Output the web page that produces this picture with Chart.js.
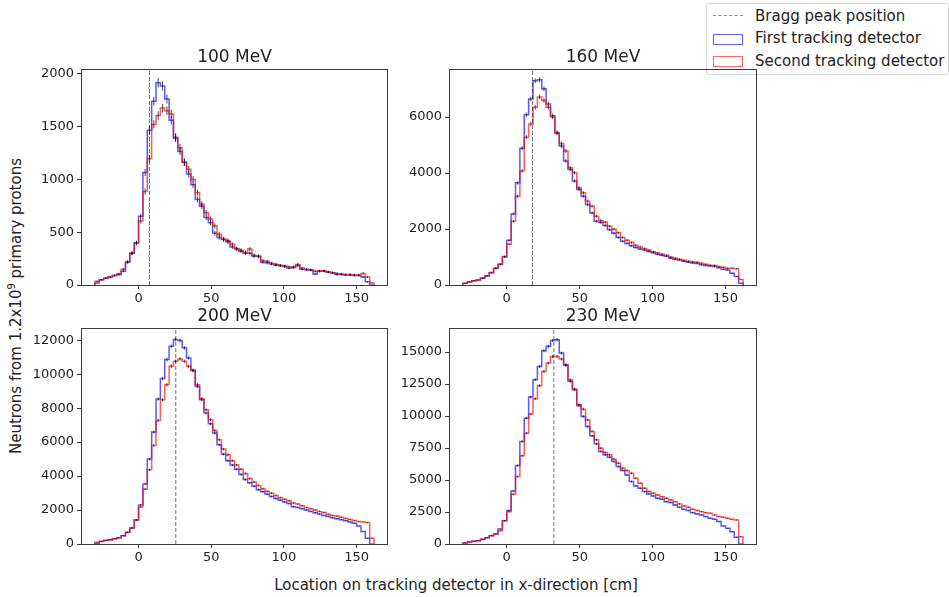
<!DOCTYPE html>
<html><head><meta charset="utf-8">
<script src="https://cdn.jsdelivr.net/npm/chart.js@4/dist/chart.umd.min.js"></script>
<style>
body{margin:0;background:#fff;width:949px;height:597px;overflow:hidden;position:relative;font-family:"DejaVu Sans",sans-serif;color:#222}
canvas{position:absolute}
.lbl{position:absolute;white-space:nowrap;font-size:15px;color:#222}
#legend{position:absolute;left:706px;top:3px;width:241px;height:70px;border:1px solid #d6d6d6;border-radius:3px;background:#fff}
.row{position:absolute;left:48px;font-size:15px;line-height:18px;white-space:nowrap;color:#222}
.h{position:absolute;left:6px;box-sizing:border-box}
</style></head><body>
<div id="legend">
  <div class="h" style="top:11px;width:30px;height:0;border-top:1px dashed #8a8a8a"></div>
  <div class="row" style="top:3px">Bragg peak position</div>
  <div class="h" style="top:30px;width:30px;height:11px;border:1.5px solid rgba(0,0,255,0.6)"></div>
  <div class="row" style="top:25px">First tracking detector</div>
  <div class="h" style="top:52px;width:30px;height:11px;border:1.5px solid rgba(255,0,0,0.6)"></div>
  <div class="row" style="top:48px">Second tracking detector</div>
</div>
<div class="lbl" style="left:456px;top:585px;transform:translate(-50%,-50%)">Location on tracking detector in x-direction [cm]</div>
<div class="lbl" style="left:15px;top:306px;transform:translate(-50%,-50%) rotate(-90deg)">Neutrons from 1.2x10<span style="font-size:10px;vertical-align:6px">9</span> primary protons</div>
<script>
// ---- data ----
const binEdges = [-30,-27,-24,-21,-18,-15,-12,-9,-6,-3,0,3,6,9,12,15,18,21,24,27,30,33,36,39,42,45,48,51,54,57,60,63,66,69,72,75,78,81,84,87,90,93,96,99,102,105,108,111,114,117,120,123,126,129,132,135,138,141,144,147,150,153,156,159,162];
const energies = ["100 MeV","160 MeV","200 MeV","230 MeV"];
const braggPeak = [7.5, 17.7, 25.6, 32.3];
const xTickValues = [0, 50, 100, 150];
const yTicks100 = [0, 500, 1000, 1500, 2000];
const yTicks160 = [0, 2000, 4000, 6000];
const yTicks200 = [0, 2000, 4000, 6000, 8000, 10000, 12000];
const yTicks230 = [0, 2500, 5000, 7500, 10000, 12500, 15000];

const first100 = [20,50,65,75,90,100,130,215,300,400, 650,1065,1465,1740,1915,1885,1760,1560,1390,1265, 1160,1050,950,810,745,640,590,490,450,430, 410,360,340,320,300,300,275,270,215,210, 200,190,185,175,160,165,185,150,145,140, 105,130,130,120,115,100,100,95,95,90, 90,75,30,0];
const second100 = [35,50,65,75,90,105,150,220,300,395, 605,885,1195,1520,1605,1675,1650,1620,1400,1300, 1165,1095,1000,875,765,685,625,560,480,435, 420,385,345,330,310,340,280,275,230,225, 205,195,185,180,170,170,195,160,150,145, 130,135,135,125,115,110,105,100,100,95, 95,110,75,20];

const first160 = [60,120,155,180,240,320,440,600,740,1020, 1595,2540,3650,4890,6085,6650,7300,7330,7010,6470, 6050,5420,4970,4430,4130,3715,3415,3175,2875,2575, 2275,2230,2130,1975,1850,1700,1560,1480,1400,1340, 1290,1250,1200,1150,1100,1060,1030,960,920,890, 850,810,790,770,720,700,680,660,620,560, 540,420,300,60];
const second160 = [60,110,150,180,250,330,450,590,730,1000, 1460,2275,3175,4075,5280,5750,6350,6720,6590,6350, 6000,5450,5055,4790,4190,4015,3475,3295,2995,2815, 2455,2300,2240,2100,1990,1870,1700,1600,1520,1420, 1360,1300,1240,1190,1140,1100,1060,1000,960,920, 880,850,830,810,780,740,710,700,660,630, 600,600,580,200];

const first200 = [40,150,210,250,310,370,490,670,945,1415, 2300,3540,5000,6590,8540,9740,10860,11645,12040,11980, 11550,10960,10230,9280,8500,7710,7080,6530,5840,5290, 4900,4650,4400,4100,3800,3600,3400,3200,3080,2930, 2800,2680,2580,2480,2380,2200,2150,2080,2000,1920, 1840,1760,1680,1620,1540,1490,1430,1370,1300,1220, 1060,730,335,0];
const second200 = [98,157,216,256,315,374,490,690,945,1415, 2180,3225,4370,5800,7280,8500,9380,10465,10760,10900, 10760,10465,10210,9380,8560,7910,7320,6690,6140,5590, 5250,4900,4650,4400,4150,3850,3650,3450,3250,3100, 2990,2850,2730,2640,2540,2420,2350,2250,2150,2080, 2000,1920,1850,1750,1680,1650,1580,1500,1440,1380, 1320,1300,1260,335];

const first230 = [80,155,210,260,365,495,650,780,1175,1825, 2610,4150,6130,8010,9835,11480,12840,13880,15110,15445, 15910,15970,14920,14010,12710,12050,10880,9970,9180,8450, 7830,7230,6970,6780,6440,6050,5740,5400,4880,4540, 4360,4100,3910,3760,3575,3500,3310,3235,3050,2870, 2710,2610,2450,2350,2270,2140,2010,1930,1750,1410, 1225,965,520,0];
const second230 = [80,155,210,260,365,495,650,780,1045,1825, 2530,3890,5270,6890,8660,10150,11350,12370,13490,14140, 14660,14660,14450,13960,12840,12105,10800,10540,9700,8790, 8140,7490,7150,6970,6630,6310,5920,5740,5530,5140, 4750,4360,4100,3970,3835,3700,3575,3445,3310,3130, 2975,2870,2710,2610,2530,2450,2400,2270,2140,2090, 2010,1930,1880,575];

// ---- helpers ----
function stepPoints(vals){
  const pts=[{x:binEdges[0],y:0}];
  vals.forEach((v,i)=>pts.push({x:binEdges[i],y:v}));
  pts.push({x:binEdges[vals.length],y:0});
  return pts;
}
function errorBarPoints(vals){ // Poisson uncertainty sqrt(N) per bin
  const pts=[];
  vals.forEach((v,i)=>{
    if(v<=0) return;
    const c=(binEdges[i]+binEdges[i+1])/2, e=Math.sqrt(v);
    pts.push({x:c,y:v-e},{x:c,y:v+e},{x:c,y:null});
  });
  return pts;
}
const framePlugin={id:'frame',afterDatasetsDraw(chart){
  const {ctx,chartArea:a}=chart;
  ctx.save();ctx.strokeStyle='#3a3a3a';ctx.lineWidth=1;
  ctx.strokeRect(Math.round(a.left)+0.5,Math.round(a.top)+0.5,Math.round(a.right-a.left)-1,Math.round(a.bottom-a.top));
  ctx.restore();
}};

const FONT='"DejaVu Sans", sans-serif';
const panels=[
  {title:energies[0],first:first100,second:second100,bragg:braggPeak[0],yMax:2045,yTicks:yTicks100,left:0,top:30,padR:12},
  {title:energies[1],first:first160,second:second160,bragg:braggPeak[1],yMax:7718,yTicks:yTicks160,left:368,top:30,padR:11},
  {title:energies[2],first:first200,second:second200,bragg:braggPeak[2],yMax:12720,yTicks:yTicks200,left:0,top:289,padR:12},
  {title:energies[3],first:first230,second:second230,bragg:braggPeak[3],yMax:16880,yTicks:yTicks230,left:368,top:289,padR:11}
];

panels.forEach(p=>{
  const cv=document.createElement('canvas');
  cv.width=400;cv.height=290;cv.style.left=p.left+'px';cv.style.top=p.top+'px';
  document.body.appendChild(cv);
  const line=(data,color,order,extra)=>Object.assign({data,borderColor:color,borderWidth:1.5,pointRadius:0,fill:false,tension:0,order},extra||{});
  new Chart(cv,{
    type:'line',
    data:{datasets:[
      line(stepPoints(p.first),'rgba(0,0,255,0.65)',4,{stepped:'before',label:'First tracking detector'}),
      line(stepPoints(p.second),'rgba(255,0,0,0.65)',3,{stepped:'before',label:'Second tracking detector'}),
      line([{x:p.bragg,y:0},{x:p.bragg,y:p.yMax}],'rgba(0,0,0,0.55)',2,{borderWidth:1,borderDash:[4,2],label:'Bragg peak position'}),
      line(errorBarPoints(p.first),'rgba(0,0,0,0.7)',1,{borderWidth:1,spanGaps:false}),
      line(errorBarPoints(p.second),'rgba(0,0,0,0.7)',0,{borderWidth:1,spanGaps:false})
    ]},
    options:{
      responsive:false,animation:false,devicePixelRatio:1,events:[],
      layout:{padding:{left:0,right:p.padR,top:0,bottom:0}},
      plugins:{
        legend:{display:false},tooltip:{enabled:false},
        title:{display:true,text:p.title,fullSize:false,color:'#222',font:{family:FONT,size:17,weight:'normal'},padding:{top:17.8,bottom:0.8}}
      },
      scales:{
        x:{type:'linear',min:-39.6,max:171.6,
           afterFit(s){s.height=35;},
           afterBuildTicks(s){s.ticks=xTickValues.map(v=>({value:v}));},
           grid:{display:true,drawOnChartArea:false,drawTicks:true,tickLength:4,color:'#3a3a3a'},
           border:{display:false},
           ticks:{maxRotation:0,autoSkip:false,padding:2,color:'#222',font:{family:FONT,size:13},callback:v=>String(v)}},
        y:{type:'linear',min:0,max:p.yMax,
           afterFit(s){s.width=81;},
           afterBuildTicks(s){s.ticks=p.yTicks.map(v=>({value:v}));},
           grid:{display:true,drawOnChartArea:false,drawTicks:true,tickLength:4,color:'#3a3a3a'},
           border:{display:false},
           ticks:{autoSkip:false,padding:3,color:'#222',font:{family:FONT,size:13},callback:v=>String(v)}}
      }
    },
    plugins:[framePlugin]
  });
});
</script>
</body></html>
